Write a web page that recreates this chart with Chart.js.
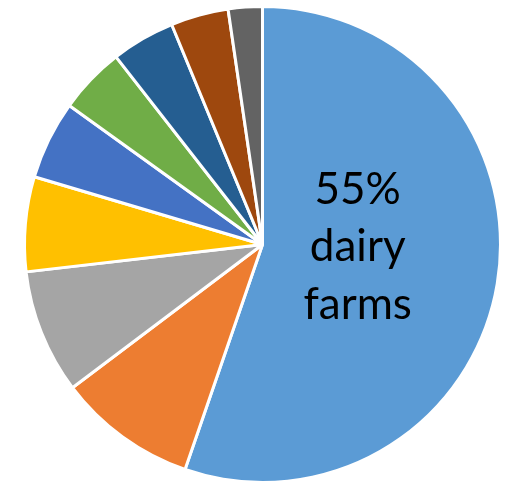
<!DOCTYPE html>
<html>
<head>
<meta charset="utf-8">
<script src="https://cdn.jsdelivr.net/npm/chart.js@4"></script>
<style>
  html, body { margin: 0; padding: 0; background: #fff; }
  #wrap { width: 506px; height: 484px; }
</style>
</head>
<body>
<div id="wrap"><canvas id="pie"></canvas></div>
<script>
// slice names (only the big one is labelled in the picture)
const categories = ["dairy farms", "other 2", "other 3", "other 4", "other 5",
  "other 6", "other 7", "other 8", "other 9"];
// shares in percent, read clockwise from 12 o'clock
const shares = [55, 9.4, 8.4, 6.4, 5.3, 4.5, 4.3, 3.9, 2.3];
const sliceColors = ["#5B9BD5", "#ED7D31", "#A5A5A5", "#FFC000", "#4472C4",
  "#70AD47", "#255E91", "#9E480E", "#636363"];
const bigLabel = ["55%", "dairy", "farms"];

// text inside the big slice
const labelPlugin = {
  id: "bigLabel",
  afterDatasetsDraw(chart) {
    const arc = chart.getDatasetMeta(0).data[0];
    const ctx = chart.ctx;
    const r = arc.outerRadius;
    const x = arc.x + r * 0.4;
    ctx.save();
    ctx.fillStyle = "#000";
    ctx.font = "44px Lato";
    ctx.textAlign = "center";
    ctx.textBaseline = "alphabetic";
    const offs = [-41, 16, 74];
    bigLabel.forEach((t, i) => ctx.fillText(t, x, arc.y + offs[i]));
    ctx.restore();
  }
};

new Chart(document.getElementById("pie"), {
  type: "pie",
  data: {
    labels: categories,
    datasets: [{
      data: shares,
      backgroundColor: sliceColors,
      borderColor: "#fff",
      borderWidth: 3
    }]
  },
  options: {
    responsive: true,
    maintainAspectRatio: false,
    animation: false,
    layout: { padding: { left: 23, right: 4, top: 5, bottom: 0 } },
    plugins: {
      legend: { display: false },
      tooltip: { enabled: false }
    }
  },
  plugins: [labelPlugin]
});
</script>
</body>
</html>
